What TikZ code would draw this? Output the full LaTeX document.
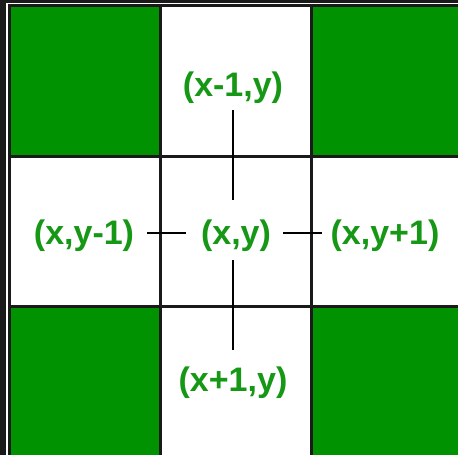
\documentclass[tikz,border=0pt]{standalone}
\usepackage{fontspec}
\setmainfont{Liberation Sans}
\definecolor{cellgreen}{RGB}{0,146,0}
\definecolor{txtgreen}{RGB}{22,152,22}
\definecolor{edge}{RGB}{26,26,26}
\begin{document}
\begin{tikzpicture}[x=1pt,y=-1pt,
  grid/.style={draw=edge,line width=3pt},
  gcell/.style={grid,fill=cellgreen},
  wcell/.style={grid,fill=white},
  lab/.style={text=txtgreen,font=\fontsize{34}{38}\selectfont\bfseries,inner sep=0pt},
  conn/.style={draw=black,line width=2.5pt}]
\useasboundingbox (0,0) rectangle (458,455);
\fill[edge] (0,0) rectangle (458,455);
\fill[white] (6,3) rectangle (458,455);
% cells
\path[gcell] (9,5) rectangle (160,156);
\path[wcell] (160,5) rectangle (311,156);
\path[gcell] (311,5) rectangle (470,156);
\path[wcell] (9,156) rectangle (160,306);
\path[wcell] (160,156) rectangle (311,306);
\path[wcell] (311,156) rectangle (470,306);
\path[gcell] (9,306) rectangle (160,470);
\path[wcell] (160,306) rectangle (311,470);
\path[gcell] (311,306) rectangle (470,470);
% labels
\node[lab] (top) at (233,88) {(x-1,y)};
\node[lab] (mid) at (236,236) {(x,y)};
\node[lab] (bot) at (233,383) {(x+1,y)};
\node[lab] (lft) at (84,236) {(x,y-1)};
\node[lab] (rgt) at (385,236) {(x,y+1)};
\coordinate (hc) at (233,233);
\coordinate (hl) at (84,233);
\coordinate (hr) at (385,233);
% connectors
\draw[conn,shorten <=22pt,shorten >=33pt] (top.center) -- (hc);
\draw[conn,shorten <=27pt,shorten >=33pt] (hc) -- (bot.center);
\draw[conn,shorten <=63pt,shorten >=47pt] (hl) -- (hc);
\draw[conn,shorten <=50pt,shorten >=63pt] (hc) -- (hr);
\end{tikzpicture}
\end{document}
